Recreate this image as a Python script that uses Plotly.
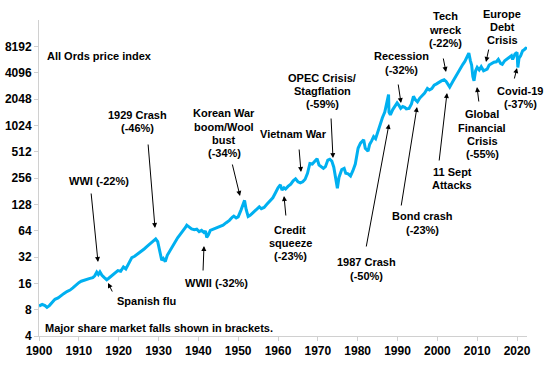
import plotly.graph_objects as go
import math

# ---- data ----
years = [1900.0, 1900.8, 1901.5, 1902.0, 1902.6, 1903.2, 1904.0, 1904.8, 1905.5, 1906.2,
         1907.0, 1907.8, 1908.5, 1909.2, 1910.0, 1910.6, 1911.3, 1912.0, 1912.8, 1913.5,
         1914.0, 1914.5, 1914.9, 1915.3, 1915.8, 1916.4, 1917.0, 1917.5, 1918.2, 1919.0,
         1919.8, 1920.5, 1921.2, 1921.8, 1922.5, 1923.3, 1924.0, 1924.8, 1925.5, 1926.4,
         1927.2, 1928.0, 1928.8, 1929.3, 1929.8, 1930.3, 1930.8, 1931.2, 1931.7, 1932.2,
         1932.8, 1933.5, 1934.2, 1934.8, 1935.5, 1936.2, 1936.8, 1937.1, 1937.6, 1938.3,
         1939.0, 1939.6, 1940.2, 1940.8, 1941.4, 1941.8, 1942.1, 1942.5, 1943.0, 1943.8,
         1944.5, 1945.4, 1946.2, 1947.0, 1947.8, 1948.5, 1948.9, 1949.5, 1950.0, 1950.7,
         1951.3, 1951.6, 1952.0, 1952.5, 1953.0, 1953.8, 1954.6, 1955.3, 1955.8, 1956.5,
         1957.2, 1958.0, 1958.7, 1959.4, 1960.0, 1960.6, 1961.0, 1961.5, 1961.9, 1962.5,
         1963.2, 1963.8, 1964.4, 1965.0, 1965.6, 1966.2, 1966.8, 1967.4, 1968.0, 1968.6,
         1969.2, 1969.8, 1970.3, 1970.8, 1971.4, 1971.9, 1972.5, 1973.0, 1973.5, 1974.0,
         1974.4, 1974.9, 1975.3, 1976.0, 1976.6, 1977.0, 1977.6, 1978.2, 1978.8, 1979.4,
         1980.1, 1980.7, 1981.5, 1981.9, 1982.6, 1983.0, 1983.5, 1984.0, 1984.5, 1985.0,
         1985.6, 1986.2, 1986.8, 1987.3, 1987.75, 1987.85, 1988.2, 1988.8, 1989.4, 1989.9,
         1990.3, 1990.8, 1991.3, 1991.8, 1992.2, 1992.9, 1993.5, 1994.0, 1994.5, 1995.0,
         1995.6, 1996.2, 1996.8, 1997.5, 1998.0, 1998.6, 1999.2, 1999.8, 2000.4, 2001.0,
         2001.7, 2002.2, 2002.8, 2003.1, 2003.8, 2004.5, 2005.2, 2005.8, 2006.4, 2006.9,
         2007.4, 2007.9, 2008.3, 2008.6, 2008.9, 2009.2, 2009.6, 2010.0, 2010.5, 2011.0,
         2011.6, 2012.0, 2012.5, 2013.0, 2013.6, 2014.2, 2014.8, 2015.3, 2015.9, 2016.3,
         2016.9, 2017.5, 2018.0, 2018.6, 2018.9, 2019.5, 2020.0, 2020.2, 2020.5, 2020.9,
         2021.4, 2021.8, 2022.2, 2022.5]

all_ords = [8.8, 9.2, 8.9, 8.5, 8.9, 9.6, 10.5, 10.9, 11.6, 12.2,
            12.9, 13.4, 14.2, 15.3, 16.3, 16.9, 17.2, 17.8, 18.2, 18.6,
            19.5, 21.5, 20.2, 21.6, 19.8, 18.6, 17.6, 18.3, 19.4, 20.8,
            22.4, 22.0, 24.6, 23.4, 26.8, 31.5, 32.6, 34.5, 36.8, 39.5,
            42.5, 45.5, 48.6, 51.5, 48.0, 36.0, 29.5, 30.8, 28.3, 33.5,
            37.5, 43.0, 48.5, 53.0, 58.5, 63.5, 70.0, 74.0, 70.5, 67.0,
            65.5, 66.5, 62.5, 64.5, 61.0, 63.5, 53.5, 57.0, 64.5, 66.5,
            68.5, 71.0, 74.0, 79.0, 84.0, 91.0, 94.0, 89.5, 92.0, 110,
            136, 142, 112, 93, 96, 104, 112, 120, 114, 118,
            128, 140, 152, 175, 198, 214, 186, 198, 192, 205,
            218, 238, 250, 232, 225, 232, 248, 290, 375, 370,
            395, 425, 360, 345, 330, 345, 410, 420, 400, 340,
            265, 195, 260, 320, 330, 290, 285, 270, 310, 370,
            560, 640, 700, 560, 520, 620, 680, 760, 720, 860,
            1000, 1250, 1450, 1850, 2300, 1450, 1350, 1550, 1700, 1850,
            1750, 1600, 1680, 1650, 1580, 1600, 1800, 2200, 2000, 1900,
            2100, 2250, 2400, 2700, 2600, 2700, 2950, 3050, 3200, 3300,
            3400, 3250, 2950, 2800, 3200, 3650, 4100, 4600, 5100, 5500,
            6300, 6850, 5600, 5000, 3700, 3300, 4300, 4700, 4400, 4800,
            4300, 4400, 4500, 5000, 5200, 5400, 5450, 5800, 5200, 5100,
            5600, 5800, 6100, 6400, 5800, 6700, 7000, 4700, 6000, 6400,
            7300, 7500, 7800, 7700]

y_ticks = [4, 8, 16, 32, 64, 128, 256, 512, 1024, 2048, 4096, 8192]
x_ticks = [1900, 1910, 1920, 1930, 1940, 1950, 1960, 1970, 1980, 1990, 2000, 2010, 2020]

# ---- layout geometry (screen pixels) ----
W, H = 548, 366
PX0, PX1, PY0, PY1 = 39, 527, 20, 336          # plot area
PW, PH = PX1 - PX0, PY1 - PY0
L, T = PX0, PY0
R, B = W - L - PW, H - T - PH

def px(x):
    return (x - PX0) / PW

def py(y):
    return (PY1 - y) / PH

FONT = "Liberation Sans, Arial, sans-serif"

fig = go.Figure()
fig.add_trace(go.Scatter(x=years, y=all_ords, mode="lines",
                         line=dict(color="#00B0F0", width=3), hoverinfo="skip"))

# (text lines, center/left x, list of line y, anchor)
texts = [
    (["All Ords price index"], 45, [56], "left"),
    (["Major share market falls shown in brackets."], 43, [328], "left"),
    (["1929 Crash", "(-46%)"], 137, [115, 128.3], "center"),
    (["Korean War", "boom/Wool", "bust", "(-34%)"], 224, [113, 126.5, 139.5, 153], "center"),
    (["WWI (-22%)"], 99, [181], "center"),
    (["Spanish flu"], 146, [301], "center"),
    (["WWII (-32%)"], 216, [283], "center"),
    (["Vietnam War"], 293, [134], "center"),
    (["Credit", "squeeze", "(-23%)"], 290, [229.7, 243, 256.3], "center"),
    (["OPEC Crisis/", "Stagflation", "(-59%)"], 322, [77.7, 91, 104.3], "center"),
    (["Recession", "(-32%)"], 401, [56, 70], "center"),
    (["Tech", "wreck", "(-22%)"], 445, [16, 30, 42.7], "center"),
    (["Europe", "Debt", "Crisis"], 502, [14, 26.7, 40], "center"),
    (["Global", "Financial", "Crisis", "(-55%)"], 482, [114.3, 127.7, 141, 154.3], "center"),
    (["Covid-19", "(-37%)"], 520, [90.7, 104], "center"),
    (["11 Sept", "Attacks"], 452, [171.7, 185], "center"),
    (["Bond crash", "(-23%)"], 422, [215.7, 229.7], "center"),
    (["1987 Crash", "(-50%)"], 366.5, [262.3, 276.3], "center"),
]

arrows = [
    (148, 143, 155, 228),
    (232, 163, 240, 196),
    (91, 192, 98, 262),
    (113, 293, 108, 283),
    (203, 272, 204, 246),
    (299, 148, 301, 172),
    (286, 217, 284, 196),
    (331, 117, 333, 158),
    (398, 83, 401, 103),
    (443, 57, 446, 72),
    (489, 48, 486, 62),
    (479, 103, 477, 87),
    (514, 80, 517, 68),
    (439, 162, 447, 93),
    (401, 207, 417, 107),
    (366, 248, 389, 124),
]

annotations = []
for lines, x, ys, al in texts:
    for t, y in zip(lines, ys):
        annotations.append(dict(
            text=t, x=px(x), y=py(y), xref="paper", yref="paper",
            xanchor="left" if al == "left" else "center", yanchor="middle",
            align=al, showarrow=False,
            font=dict(family=FONT, size=11, color="black", weight="bold")))

for tx, ty, hx, hy in arrows:
    annotations.append(dict(
        text="", x=px(hx), y=py(hy), xref="paper", yref="paper",
        ax=tx - hx, ay=ty - hy, axref="pixel", ayref="pixel",
        showarrow=True, arrowhead=2, arrowsize=1, arrowwidth=1,
        arrowcolor="black", standoff=0, startstandoff=0))

fig.update_layout(
    width=W, height=H,
    margin=dict(l=L, r=R, t=T, b=B, pad=0, autoexpand=False),
    paper_bgcolor="white", plot_bgcolor="white",
    showlegend=False,
    annotations=annotations,
    xaxis=dict(range=[1900, 2022.5], tickvals=x_ticks, ticktext=[str(v) for v in x_ticks],
               automargin=False,
               showgrid=False, zeroline=False, showline=True, linecolor="#d0d0d0", linewidth=1,
               ticks="outside", ticklen=4, tickcolor="#d0d0d0",
               tickfont=dict(family=FONT, size=12, color="black", weight="bold")),
    yaxis=dict(type="log", range=[math.log10(4), math.log10(16384)],
               tickvals=y_ticks, ticktext=[str(v) for v in y_ticks],
               automargin=False,
               showgrid=False, zeroline=False, showline=True, linecolor="#d0d0d0", linewidth=1,
               ticks="outside", ticklen=4, tickcolor="#d0d0d0",
               tickfont=dict(family=FONT, size=12, color="black", weight="bold")),
)

fig.write_html("out.html",
               config={"displayModeBar": False},
               post_script="document.body.style.margin='0';document.body.style.padding='0';")
